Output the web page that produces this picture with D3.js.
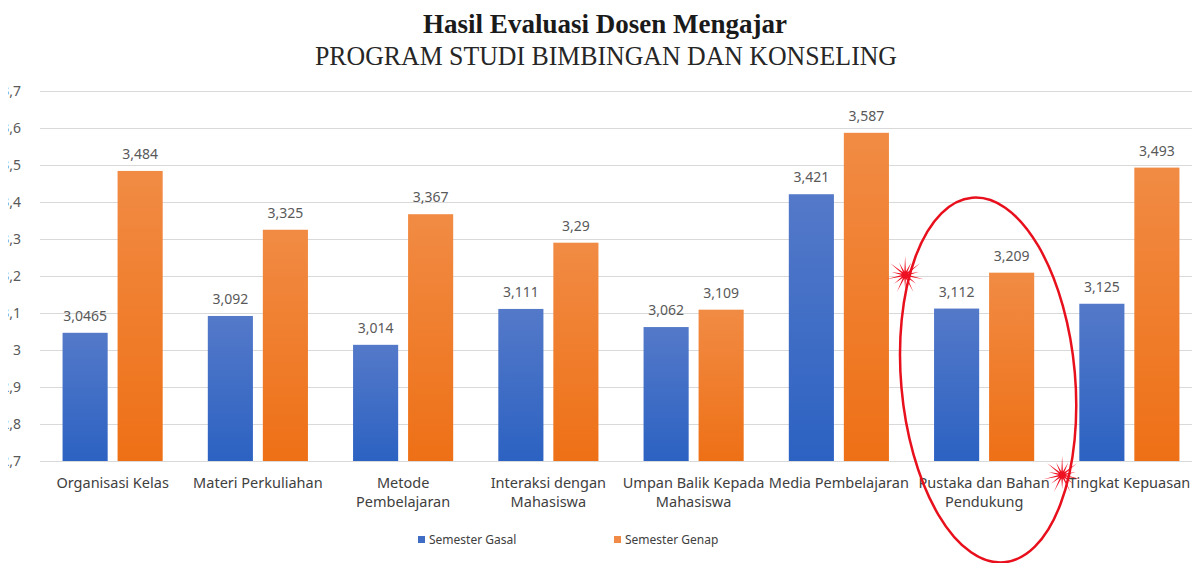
<!DOCTYPE html>
<html>
<head>
<meta charset="utf-8">
<script src="https://cdn.jsdelivr.net/npm/d3@7"></script>
<style>
  body { margin: 0; background: #fff; }
  svg { display: block; }
  .tick line { stroke: #d9d9d9; }
  .tick text { fill: #595959; font-family: "Noto Sans", sans-serif; font-size: 14px; }
</style>
</head>
<body>
<svg id="chart" width="1192" height="563"></svg>
<script>
// data
const categories = ["Organisasi Kelas", "Materi Perkuliahan", "Metode Pembelajaran", "Interaksi dengan Mahasiswa",
  "Umpan Balik Kepada Mahasiswa", "Media Pembelajaran", "Pustaka dan Bahan Pendukung", "Tingkat Kepuasan"];
const labelLines = [["Organisasi Kelas"], ["Materi Perkuliahan"], ["Metode", "Pembelajaran"], ["Interaksi dengan", "Mahasiswa"],
  ["Umpan Balik Kepada", "Mahasiswa"], ["Media Pembelajaran"], ["Pustaka dan Bahan", "Pendukung"], ["Tingkat Kepuasan"]];
const gasal = [3.0465, 3.092, 3.014, 3.111, 3.062, 3.421, 3.112, 3.125];
const genap = [3.484, 3.325, 3.367, 3.29, 3.109, 3.587, 3.209, 3.493];
const seriesNames = ["Semester Gasal", "Semester Genap"];
const yTicks = [2.7, 2.8, 2.9, 3, 3.1, 3.2, 3.3, 3.4, 3.5, 3.6, 3.7];
const highlighted = "Pustaka dan Bahan Pendukung";

const svg = d3.select("#chart");
const fmt = d => String(d).replace(".", ",");  // Indonesian decimal comma

// plot box runs past the right edge, like the cropped screenshot
const x = d3.scaleBand().domain(categories).range([40, 1202]);
const xs = d3.scaleBand().domain(seriesNames).range([0, x.bandwidth()]).paddingInner(0.18).paddingOuter(0.41);
const y = d3.scaleLinear().domain([2.7, 3.7]).range([461, 91]);

const defs = svg.append("defs");
const grad = (id, top, bottom) => {
  const g = defs.append("linearGradient").attr("id", id).attr("x1", 0).attr("y1", 0).attr("x2", 0).attr("y2", 1);
  g.append("stop").attr("offset", "0%").attr("stop-color", top);
  g.append("stop").attr("offset", "100%").attr("stop-color", bottom);
};
grad("gBlue", "#5479c9", "#2c62c2");
grad("gOrange", "#f18b44", "#ee7016");
const fills = ["url(#gBlue)", "url(#gOrange)"];
const legendColours = ["#3f6cc4", "#f08a46"];

// tick labels are cut at the left edge in the original (clip is in the axis group's own coords)
defs.append("clipPath").attr("id", "leftCut").append("rect").attr("x", -32).attr("y", 0).attr("width", 1200).attr("height", 563);

// gridlines + y labels
svg.append("g")
  .attr("transform", "translate(40,0)")
  .attr("clip-path", "url(#leftCut)")
  .call(d3.axisLeft(y).tickValues(yTicks).tickFormat(fmt).tickSize(-1170).tickPadding(19))
  .call(g => g.select(".domain").remove());

// bars
const rows = categories.map((c, i) => ({ cat: c, vals: [gasal[i], genap[i]] }));
const groups = svg.append("g").selectAll("g").data(rows).join("g")
  .attr("transform", d => `translate(${x(d.cat)},0)`);

const bars = groups.selectAll("g").data(d => d.vals.map((v, j) => ({ v, s: seriesNames[j], j }))).join("g");
bars.append("rect")
  .attr("x", d => xs(d.s))
  .attr("y", d => y(d.v))
  .attr("width", xs.bandwidth())
  .attr("height", d => y(2.7) - y(d.v))
  .attr("fill", d => fills[d.j]);
bars.append("text")
  .attr("x", d => xs(d.s) + xs.bandwidth() / 2)
  .attr("y", d => y(d.v) - 12)
  .attr("text-anchor", "middle")
  .attr("fill", "#595959")
  .style("font-family", "Noto Sans, sans-serif")
  .style("font-size", "14px")
  .text(d => fmt(d.v));

// category labels
svg.append("g").selectAll("text").data(categories).join("text")
  .attr("x", d => x(d) + x.bandwidth() / 2)
  .attr("y", 488)
  .attr("text-anchor", "middle")
  .attr("fill", "#404040")
  .style("font-family", "Noto Sans, sans-serif")
  .style("font-size", "14.5px")
  .selectAll("tspan").data((d, i) => labelLines[i]).join("tspan")
  .attr("x", function () { return d3.select(this.parentNode).attr("x"); })
  .attr("dy", (d, i) => i ? 19 : 0)
  .text(d => d);

// titles
svg.append("text").attr("x", 605).attr("y", 33).attr("text-anchor", "middle")
  .style("font-family", "Liberation Serif, serif").style("font-weight", "bold").style("font-size", "27px")
  .attr("fill", "#1a1a1a").text("Hasil Evaluasi Dosen Mengajar");
svg.append("text").attr("x", 606).attr("y", 65).attr("text-anchor", "middle")
  .style("font-family", "Liberation Serif, serif").style("font-size", "27px")
  .attr("textLength", 582).attr("lengthAdjust", "spacingAndGlyphs")
  .attr("fill", "#262626").text("PROGRAM STUDI BIMBINGAN DAN KONSELING");

// legend
const legX = [418, 614];
const leg = svg.append("g").selectAll("g").data(seriesNames).join("g")
  .attr("transform", (d, i) => `translate(${legX[i]},536)`);
leg.append("rect").attr("width", 7).attr("height", 7).attr("fill", (d, i) => legendColours[i]);
leg.append("text").attr("x", 11).attr("y", 8)
  .attr("fill", "#404040")
  .style("font-family", "Noto Sans, sans-serif").style("font-size", "12px")
  .text(d => d);

// hand-drawn highlight around one category
const cx = x(highlighted) + x.bandwidth() / 2;
const note = svg.append("g").attr("stroke", "#e8101c").attr("fill", "none");
note.append("ellipse")
  .attr("cx", cx + 4).attr("cy", 380).attr("rx", 87).attr("ry", 183)
  .attr("transform", `rotate(-5 ${cx + 4} 380)`)
  .attr("stroke-width", 2.5);

const star = (px, py) => {
  const pts = d3.range(28).map(k => [k * Math.PI / 14, k % 2 ? 3.5 : (k % 4 ? 14 : 19)]);
  svg.append("path")
    .attr("transform", `translate(${px},${py})`)
    .attr("d", d3.lineRadial().curve(d3.curveLinearClosed)(pts))
    .attr("fill", "#ee1122");
};
star(cx - 79, 275);
star(cx + 78, 475);
</script>
</body>
</html>
